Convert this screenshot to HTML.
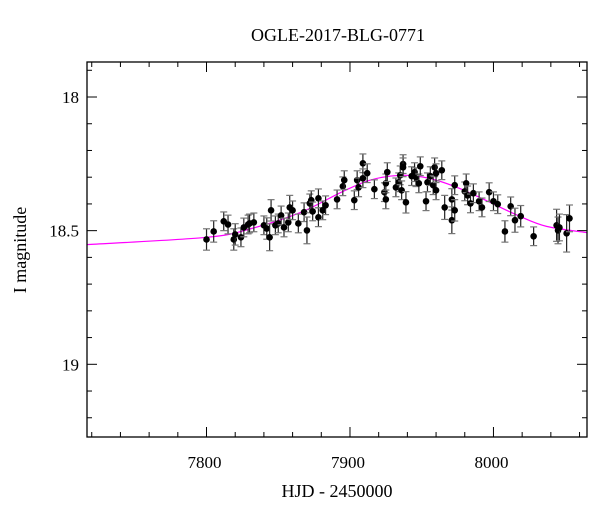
<!DOCTYPE html>
<html><head><meta charset="utf-8"><style>
html,body{margin:0;padding:0;background:#fff;}
svg{display:block;font-family:"Liberation Serif",serif;}
</style></head><body>
<svg id="chart" width="600" height="512" viewBox="0 0 600 512" xmlns="http://www.w3.org/2000/svg">
<text x="338" y="41" font-size="18" text-anchor="middle">OGLE-2017-BLG-0771</text>
<text x="337" y="497" font-size="18" text-anchor="middle">HJD - 2450000</text>
<text x="0" y="0" font-size="18" text-anchor="middle" transform="translate(26,250) rotate(-90)">I magnitude</text>
<g id="plot"></g>
</svg>
<script>
const hjd=[7800,7805,7812,7815,7819,7820,7824,7826,7829,7830,7833,7840,7842,7844,7845,7848,7850,7852,7854,7857,7858,7860,7864,7868,7870,7872,7873,7874,7878,7878,7881,7883,7891,7895,7896,7903,7905,7906,7909,7909,7912,7917,7924,7925,7925,7926,7932,7934,7935,7936,7937,7937,7939,7943,7945,7946,7948,7949,7953,7954,7956,7958,7959,7960,7960,7964,7966,7971,7971,7973,7973,7980,7981,7982,7984,7986,7990,7992,7997,8000,8003,8008,8012,8015,8019,8028,8044,8045,8046,8051,8053];
const mag=[18.533,18.503,18.465,18.477,18.533,18.514,18.525,18.488,18.477,18.473,18.469,18.480,18.492,18.525,18.424,18.480,18.473,18.443,18.488,18.469,18.413,18.424,18.473,18.431,18.499,18.398,18.386,18.428,18.450,18.379,18.424,18.405,18.383,18.334,18.311,18.386,18.311,18.338,18.248,18.304,18.285,18.345,18.356,18.323,18.383,18.281,18.338,18.319,18.293,18.349,18.251,18.263,18.394,18.296,18.281,18.300,18.323,18.259,18.390,18.319,18.296,18.330,18.263,18.349,18.285,18.274,18.413,18.383,18.461,18.424,18.330,18.353,18.323,18.368,18.398,18.360,18.390,18.413,18.356,18.390,18.401,18.503,18.409,18.461,18.446,18.521,18.480,18.499,18.488,18.510,18.454];
const magErr=[0.04,0.04,0.035,0.035,0.04,0.04,0.035,0.035,0.035,0.035,0.035,0.035,0.04,0.05,0.04,0.035,0.035,0.035,0.035,0.035,0.045,0.035,0.035,0.035,0.05,0.035,0.035,0.035,0.035,0.035,0.035,0.035,0.035,0.035,0.035,0.035,0.035,0.035,0.035,0.035,0.035,0.035,0.035,0.035,0.035,0.035,0.035,0.035,0.035,0.035,0.035,0.035,0.04,0.035,0.035,0.035,0.035,0.035,0.035,0.035,0.035,0.035,0.035,0.035,0.035,0.035,0.045,0.04,0.05,0.04,0.035,0.035,0.035,0.035,0.035,0.035,0.035,0.035,0.035,0.035,0.035,0.04,0.035,0.045,0.04,0.035,0.06,0.05,0.05,0.07,0.05];
const modelT=[7717,7800,7832,7866,7894,7914,7935,7955,7976,7996,8017,8037,8066];
const modelMag=[18.552,18.525,18.491,18.431,18.356,18.311,18.293,18.304,18.341,18.390,18.443,18.484,18.508];
const xTickLabels=["7800","7900","8000"];
const yTickLabels=["18","18.5","19"];

const L=87,R=587,T=62,B=437;
const xMin=7716.7,xMax=8065.2,yMin=17.869,yMax=19.272;
const sx=v=>L+(v-xMin)/(xMax-xMin)*(R-L);
const sy=v=>T+(v-yMin)/(yMax-yMin)*(B-T);
const NS="http://www.w3.org/2000/svg";
const g=document.getElementById('plot');
function mk(tag,attrs,parent){const e=document.createElementNS(NS,tag);for(const k in attrs)e.setAttribute(k,attrs[k]);(parent||g).appendChild(e);return e;}

const defs=mk('defs',{});
const cp=mk('clipPath',{id:'clip'},defs);
mk('rect',{x:L,y:T,width:R-L,height:B-T},cp);

const ticks=mk('g',{stroke:'#000','stroke-width':1});


for(let v=7720;v<=8060;v+=20){
  const x=sx(v),maj=(v%100===0),len=maj?10:5;
  mk('line',{x1:x,y1:B,x2:x,y2:B-len},ticks);
  mk('line',{x1:x,y1:T,x2:x,y2:T+len},ticks);
}
for(let k=179;k<=192;k++){
  const v=k/10,y=sy(v),maj=(k%5===0),len=maj?10:5;
  mk('line',{x1:L,y1:y,x2:L+len,y2:y},ticks);
  mk('line',{x1:R,y1:y,x2:R-len,y2:y},ticks);
}
xTickLabels.forEach(s=>{
  const t=mk('text',{x:sx(+s)-2,y:468,'font-size':17,'text-anchor':'middle'});
  t.textContent=s;
  
  
});
yTickLabels.forEach(s=>{
  const t=mk('text',{x:79,y:sy(+s)+6,'font-size':17,'text-anchor':'end'});
  t.textContent=s;
  
  
});

const pts=modelT.map((t,i)=>[sx(t),sy(modelMag[i])]);
let d='M'+pts[0][0]+','+pts[0][1];
for(let i=0;i<pts.length-1;i++){
  const p0=pts[Math.max(0,i-1)],p1=pts[i],p2=pts[i+1],p3=pts[Math.min(pts.length-1,i+2)];
  const c1=[p1[0]+(p2[0]-p0[0])/6,p1[1]+(p2[1]-p0[1])/6];
  const c2=[p2[0]-(p3[0]-p1[0])/6,p2[1]-(p3[1]-p1[1])/6];
  d+=' C'+c1+' '+c2+' '+p2;
}
const curve=mk('path',{d:d,fill:'none',stroke:'#ff00ff','stroke-width':1.2,'clip-path':'url(#clip)'});



const pg=mk('g',{});


hjd.forEach((t,i)=>{
  const x=sx(t),y=sy(mag[i]),y1=sy(mag[i]-magErr[i]),y2=sy(mag[i]+magErr[i]);
  const eb=mk('g',{},pg);
  
  
  mk('line',{x1:x,y1:y1,x2:x,y2:y2,stroke:'#222','stroke-width':1.2},eb);
  mk('line',{x1:x-3.5,y1:y1,x2:x+3.5,y2:y1,stroke:'#777','stroke-width':1.2},eb);
  mk('line',{x1:x-3.5,y1:y2,x2:x+3.5,y2:y2,stroke:'#777','stroke-width':1.2},eb);
  const c=mk('circle',{cx:x,cy:y,r:3.3,fill:'#000'},pg);
  
  
});

const fr=mk('rect',{x:L,y:T,width:R-L,height:B-T,fill:'none',stroke:'#000','stroke-width':1.3});


</script>
</body></html>
